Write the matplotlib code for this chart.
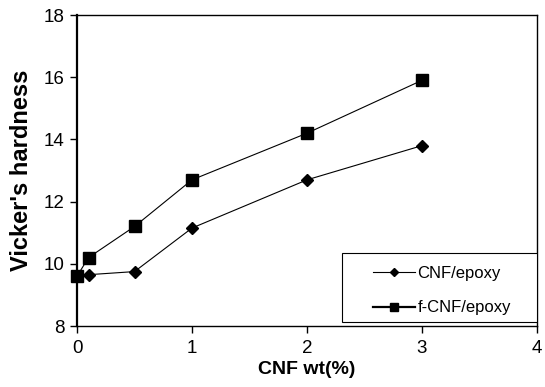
import matplotlib
matplotlib.use("Agg")
import matplotlib.pyplot as plt
from matplotlib.patches import Rectangle

plt.rcParams["font.family"] = ["Liberation Sans", "DejaVu Sans"]

cnf_x = [0, 0.1, 0.5, 1, 2, 3]
cnf_y = [9.6, 9.65, 9.75, 11.15, 12.7, 13.8]
fcnf_x = [0, 0.1, 0.5, 1, 2, 3]
fcnf_y = [9.6, 10.2, 11.2, 12.7, 14.2, 15.9]

fig = plt.figure(figsize=(5.45, 3.87), dpi=100)
ax = fig.add_axes([0.1413, 0.1576, 0.844, 0.8036])

ax.plot(cnf_x, cnf_y, color="black", lw=0.8, marker="D", ms=6,
        label="CNF/epoxy", clip_on=False, zorder=3)
ax.plot(fcnf_x, fcnf_y, color="black", lw=0.8, marker="s", ms=8,
        label="f-CNF/epoxy", clip_on=False, zorder=3)

ax.set_xlim(0, 4)
ax.set_ylim(8, 18)
ax.set_xticks([0, 1, 2, 3, 4])
ax.set_yticks([8, 10, 12, 14, 16, 18])
ax.tick_params(direction="out", length=5, width=1, labelsize=13.5, pad=4)
ax.tick_params(axis="x", pad=5)
for s in ["top", "right", "bottom"]:
    ax.spines[s].set_linewidth(1.0)
ax.spines["left"].set_linewidth(1.6)

ax.set_xlabel("CNF wt(%)", fontsize=14, fontweight="bold", labelpad=3)
ax.set_ylabel("Vicker's hardness", fontsize=17, fontweight="bold", labelpad=8)

# legend box drawn by hand, right edge on the right spine
ax.add_patch(Rectangle((0.576, 0.013), 0.424, 0.222, transform=ax.transAxes,
                       facecolor="white", edgecolor="black", lw=0.8, zorder=4))
leg = ax.legend(loc="center left", bbox_to_anchor=(0.626, 0.113), fontsize=12,
                frameon=False, borderpad=0, labelspacing=1.15, handlelength=2.5,
                handletextpad=0.15, markerscale=0.75)
leg.set_zorder(5)
for h, w in zip(leg.get_lines(), [0.8, 1.6]):
    h.set_linewidth(w)

fig.savefig("out.png", dpi=100, facecolor="white")
